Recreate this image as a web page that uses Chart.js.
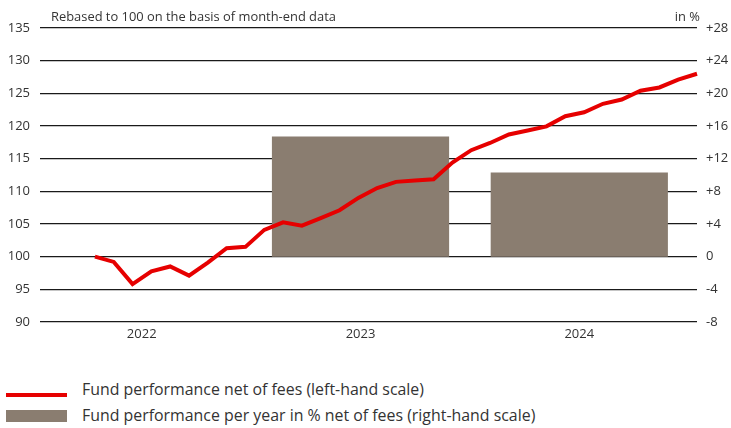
<!DOCTYPE html>
<html><head><meta charset="utf-8">
<script src="https://cdn.jsdelivr.net/npm/chart.js@4.4.1/dist/chart.umd.min.js"></script>
<style>
html,body{margin:0;padding:0;background:#fff;}
#wrap{position:relative;width:731px;height:428px;overflow:hidden;}
#chartBox{position:absolute;left:0;top:0;width:731px;height:350px;}
.lg-sym{position:absolute;left:6px;width:61px;}
.lg-txt{position:absolute;left:82px;height:22px;line-height:22px;white-space:nowrap;color:#333;font-family:'Open Sans',sans-serif;font-size:15.9px;}
</style></head>
<body>
<div id="wrap"><div id="chartBox"><canvas id="c"></canvas></div><div id="legend"></div></div>
<script>
// ---- data ----
const years = ['2022', '2023', '2024'];
const annualPerformance = [null, 14.7, 10.3];
const fundIndex = [100.0, 99.2, 95.8, 97.75, 98.5, 97.1, 99.1, 101.3, 101.5, 104.1,
  105.25, 104.75, 105.9, 107.1, 109.0, 110.5, 111.45, 111.65, 111.85, 114.4,
  116.3, 117.4, 118.7, 119.3, 119.95, 121.5, 122.1, 123.4, 124.05, 125.4,
  125.9, 127.1, 128.0];
const leftTickValues = [90, 95, 100, 105, 110, 115, 120, 125, 130, 135];
const rightTickValues = [-8, -4, 0, 4, 8, 12, 16, 20, 24, 28];
const seriesLabels = ['Fund performance net of fees (left-hand scale)',
  'Fund performance per year in % net of fees (right-hand scale)'];
const titleLeft = 'Rebased to 100 on the basis of month-end data';
const titleRight = 'in %';

const RED = '#e60000', BROWN = '#8a7d70', TXT = '#333333';
const tickFont = {family: "'Open Sans', sans-serif", size: 13};

const headerPlugin = {
  id: 'header',
  afterDraw(chart) {
    const ctx = chart.ctx;
    ctx.save();
    ctx.fillStyle = TXT;
    ctx.font = "12.9px 'Open Sans', sans-serif";
    ctx.textBaseline = 'middle';
    ctx.textAlign = 'left';
    ctx.fillText(titleLeft, 51, 17);
    ctx.textAlign = 'right';
    ctx.fillText(titleRight, 700, 17);
    ctx.restore();
  }
};

const chart = new Chart(document.getElementById('c'), {
  data: {
    datasets: [
      {
        type: 'line', label: seriesLabels[0],
        data: fundIndex.map((v, i) => ({x: i, y: v})),
        xAxisID: 'x2', yAxisID: 'y',
        borderColor: RED, borderWidth: 4, pointRadius: 0, tension: 0,
        borderJoinStyle: 'miter', clip: false
      },
      {
        type: 'bar', label: seriesLabels[1],
        data: annualPerformance.map((v, i) => ({x: i, y: v})),
        xAxisID: 'x', yAxisID: 'y2',
        backgroundColor: BROWN, borderWidth: 0, grouped: false,
        barPercentage: 0.81, categoryPercentage: 1
      }
    ]
  },
  options: {
    responsive: true, maintainAspectRatio: false, animation: false,
    layout: {padding: {top: 28, left: 0, right: 0, bottom: 0}},
    plugins: {legend: {display: false}, tooltip: {enabled: false}},
    scales: {
      x: {
        type: 'linear', position: 'bottom', min: -0.465, max: 2.538, offset: false,
        grid: {display: false, drawTicks: false, offset: false}, border: {display: false},
        afterBuildTicks: s => { s.ticks = years.map((_, i) => ({value: i})); },
        ticks: {callback: (v, i) => years[i], color: TXT, font: tickFont, padding: 4, autoSkip: false, maxRotation: 0},
        afterFit: s => { s.height = 28; }
      },
      x2: {
        type: 'linear', display: false, min: -2.92, max: 32
      },
      y: {
        type: 'linear', position: 'left', min: 90, max: 135,
        grid: {color: '#1a1a1a', lineWidth: 1.2, drawTicks: false}, border: {display: false},
        afterBuildTicks: s => { s.ticks = leftTickValues.map(v => ({value: v})); },
        ticks: {color: TXT, font: tickFont, padding: 10},
        afterFit: s => { s.width = 40; }
      },
      y2: {
        type: 'linear', position: 'right', min: -8, max: 28,
        grid: {display: false, drawTicks: false}, border: {display: false},
        afterBuildTicks: s => { s.ticks = rightTickValues.map(v => ({value: v})); },
        ticks: {color: TXT, font: tickFont, padding: 9, callback: v => (v > 0 ? '+' + v : String(v))},
        afterFit: s => { s.width = 34; }
      }
    }
  },
  plugins: [headerPlugin]
});

// ---- HTML legend built from the chart datasets ----
const legend = document.getElementById('legend');
const rowCenters = [389, 414.5];
chart.data.datasets.forEach((ds, i) => {
  const sym = document.createElement('div');
  sym.className = 'lg-sym';
  if (ds.type === 'line') { sym.style.top = '393px'; sym.style.height = '4px'; sym.style.background = ds.borderColor; }
  else { sym.style.top = '410px'; sym.style.height = '12px'; sym.style.background = ds.backgroundColor; }
  legend.appendChild(sym);
  const t = document.createElement('div');
  t.className = 'lg-txt';
  t.style.top = (rowCenters[i] - 11) + 'px';
  t.textContent = ds.label;
  legend.appendChild(t);
});
</script>
</body></html>
